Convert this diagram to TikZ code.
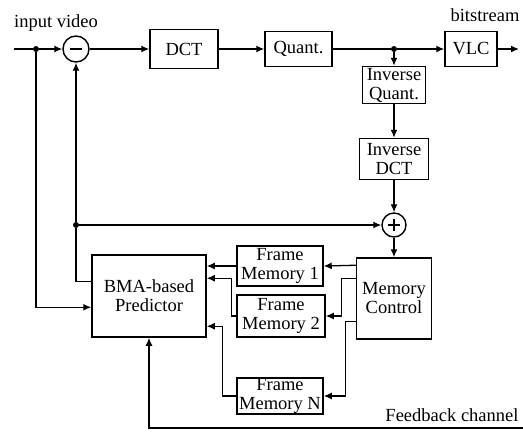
\documentclass[tikz,border=0pt]{standalone}
\usepackage{fontspec}
\setmainfont{Liberation Serif}
\usetikzlibrary{arrows.meta,positioning}
\tikzstyle{block} = [rectangle, draw, line width=1.5pt, inner sep=0pt, align=center, text centered]
\tikzstyle{arrow} = [line width=1.3pt,-{Latex[length=8pt,width=7pt]}]
\tikzstyle{line} = [line width=1.3pt]
\tikzstyle{junction} = [circle, fill, inner sep=0pt, minimum size=6pt]
\tikzstyle{summer} = [circle, draw, line width=1.4pt, inner sep=0pt]
\begin{document}
\begin{tikzpicture}[x=1pt, y=-1pt, font=\fontsize{18.5}{19}\selectfont]
\useasboundingbox (0,0) rectangle (523,432);
% Forward path
\coordinate (in) at (14,49);
\node (dotin) [junction] at (36,49) {};
\node (sub) [summer, minimum size=26pt] at (76,49) {};
\draw[line] ([xshift=-6pt]sub.center) -- ([xshift=6pt]sub.center);
\node (dct) [block, minimum width=68pt, minimum height=39pt] at (184,49) {DCT};
\node (quant) [block, minimum width=67pt, minimum height=35pt] at (298.5,49) {Quant.};
\node (dotq) [junction] at (394,49) {};
\node (vlc) [block, minimum width=52pt, minimum height=35pt] at (471,49) {VLC};
\coordinate (out) at (519,49);
\node at (56,23) {input video};
\node at (485,15) {bitstream};

% Reconstruction loop
\node (iquant) [block, minimum width=63pt, minimum height=37pt] at (394,85) {Inverse\\Quant.};
\node (idct) [block, minimum width=69pt, minimum height=41pt] at (394,159) {Inverse\\DCT};
\node (add) [summer, minimum size=24pt] at (394,225) {};
\draw[line] ([xshift=-6pt]add.center) -- ([xshift=6pt]add.center);
\draw[line] ([yshift=-6pt]add.center) -- ([yshift=6pt]add.center);
\node (dotp) [junction] at (76,225) {};
\node (mc) [block, minimum width=75pt, minimum height=81pt] at (394,298.5) {Memory\\Control};
\node (bma) [block, minimum width=114pt, minimum height=82pt] at (149,296) {BMA-based\\Predictor};
\node (fm1) [block, minimum width=86pt, minimum height=40pt] at (280,266) {Frame\\Memory 1};
\node (fm2) [block, minimum width=88pt, minimum height=42pt] at (281,316) {Frame\\Memory 2};
\node (fmN) [block, minimum width=86pt, minimum height=36pt] at (280,396) {Frame\\Memory N};
\coordinate (fb) at (523,428);
\node at (452,415) {Feedback channel};

\coordinate (mc1) at ([yshift=-8pt]mc.north west);
\coordinate (mc2) at ([yshift=-21pt]mc.north west);
\coordinate (mc3) at ([yshift=-64pt]mc.north west);
\coordinate (bma2) at ([yshift=-24pt]bma.north east);
\coordinate (bma3) at ([yshift=-72pt]bma.north east);
\coordinate (bmaout) at ([yshift=-27pt]bma.north west);
\coordinate (bmain) at ([yshift=-53pt]bma.north west);

% Connectors
\draw[line] (in) -- (dotin);
\draw[arrow] (dotin) -- (sub);
\draw[arrow] (sub) -- (dct);
\draw[arrow] (dct) -- (quant);
\draw[line] (quant) -- (dotq);
\draw[arrow] (dotq) -- (vlc);
\draw[arrow] (vlc) -- (out);
\draw[arrow] (dotq) -- (iquant);
\draw[arrow] (iquant) -- (idct);
\draw[arrow] (idct) -- (add);
\draw[arrow] (add) -- (mc);
\draw[arrow] (dotp) -- (add);
\draw[arrow] (dotp) -- (sub);
\draw[line] (bmaout) -| (dotp);
\draw[arrow] (dotin) |- (bmain);
\draw[arrow] (mc1) -- (fm1.east);
\draw[arrow] (mc2) -- ++(-14,0) |- (fm2.east);
\draw[arrow] (mc3) -- ++(-10,0) |- (fmN.east);
\draw[arrow] (fm1.west) -- (fm1.west -| bma.east);
\draw[arrow] (fm2.west) -- ++(-5,0) |- (bma2);
\draw[arrow] (fmN.west) -- ++(-14,0) |- (bma3);
\draw[arrow] (fb) -| (bma.south);
\end{tikzpicture}
\end{document}
